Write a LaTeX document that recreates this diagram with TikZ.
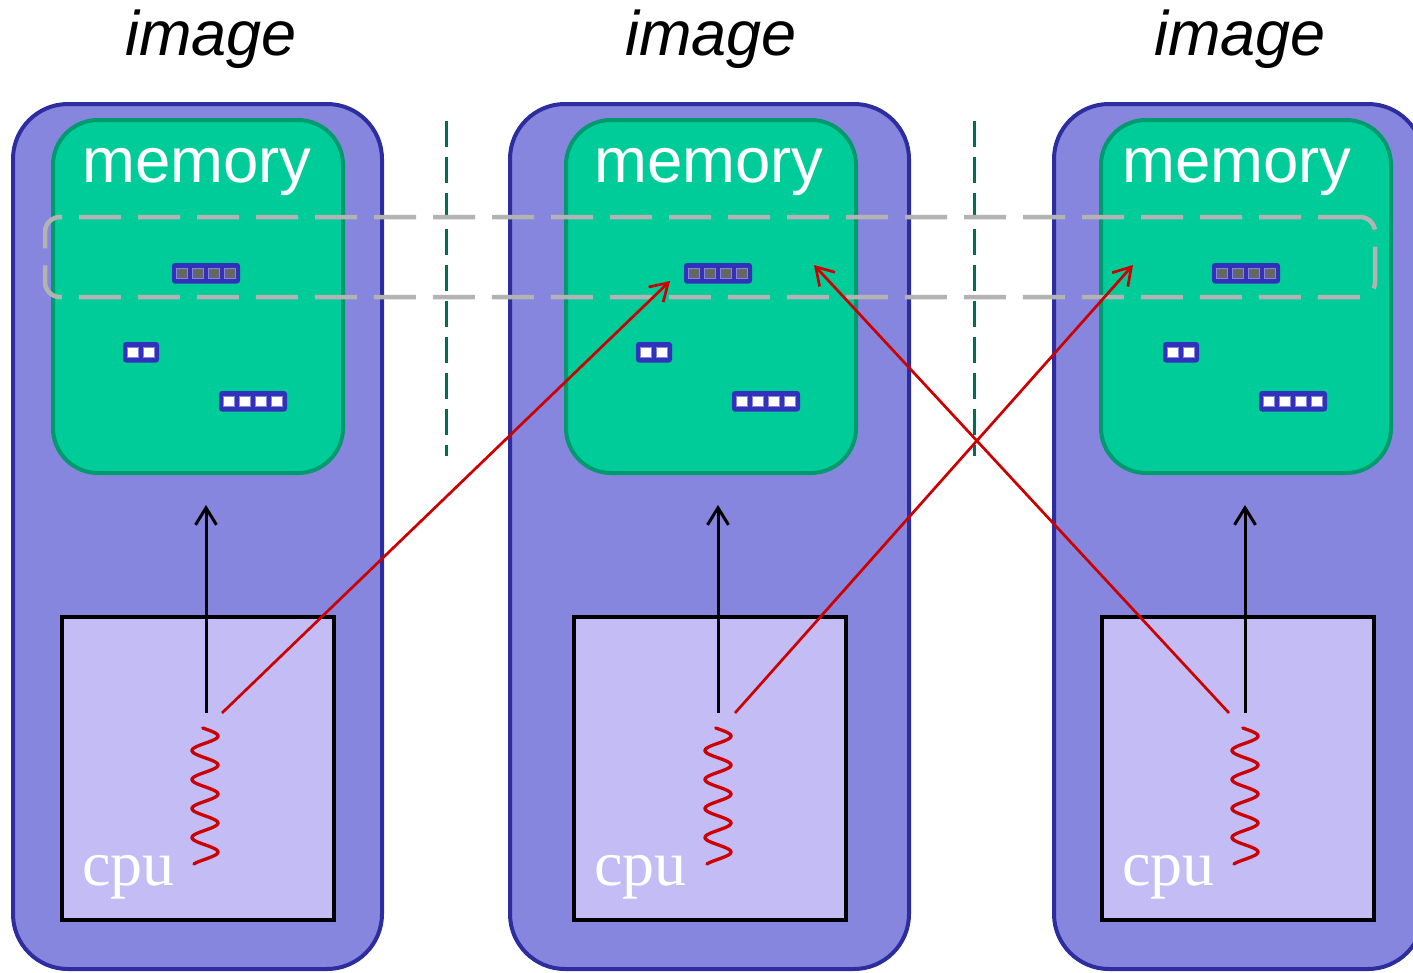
\documentclass[tikz,border=0pt]{standalone}
\usepackage{fontspec}
\setmainfont{Liberation Serif}
\newfontfamily\arialf{Liberation Sans}
\usetikzlibrary{arrows.meta}

\definecolor{imgfill}{HTML}{8686DE}
\definecolor{imgline}{HTML}{2D2D9F}
\definecolor{memfill}{HTML}{00CC99}
\definecolor{memline}{HTML}{009A6E}
\definecolor{cpufill}{HTML}{C4BDF5}
\definecolor{cellblue}{HTML}{3131BA}
\definecolor{cellgray}{HTML}{666666}
\definecolor{redline}{HTML}{CC0000}
\definecolor{grpgray}{HTML}{B3B3B3}
\definecolor{sepgreen}{HTML}{006E55}

\tikzset{
  imgbox/.style={draw=imgline, fill=imgfill, line width=4pt, rounded corners=55pt,
    anchor=north west, inner sep=0pt, outer sep=0pt, minimum width=369pt, minimum height=865pt},
  membox/.style={draw=memline, fill=memfill, line width=4pt, rounded corners=45pt,
    anchor=north west, inner sep=0pt, outer sep=0pt, minimum width=290pt, minimum height=353pt},
  cpubox/.style={draw=black, fill=cpufill, line width=4.5pt,
    anchor=north west, inner sep=0pt, outer sep=0pt, minimum width=272pt, minimum height=303pt},
  cellbar/.style={fill=cellblue, rounded corners=3pt, anchor=north west,
    inner sep=0pt, outer sep=0pt, minimum height=20.5pt},
  cellsq/.style={draw=imgfill, line width=0.8pt, inner sep=0pt, outer sep=0pt,
    minimum width=10.6pt, minimum height=10.6pt},
  imglabel/.style={font=\arialf\itshape\fontsize{63}{63}\selectfont, anchor=base, inner sep=0pt},
  memlabel/.style={font=\arialf\fontsize{63.5}{63.5}\selectfont, text=white, anchor=base, inner sep=0pt},
  cpulabel/.style={font=\fontsize{64}{64}\selectfont, text=white, anchor=base west, inner sep=0pt},
  sepline/.style={draw=sepgreen, line width=3pt, dash pattern=on 26pt off 10pt},
  grpbox/.style={draw=grpgray, line width=4.5pt, rounded corners=15pt, dash pattern=on 42pt off 17pt,
    anchor=north west, inner sep=0pt, outer sep=0pt, minimum width=1330pt, minimum height=80pt},
  localarrow/.style={draw=black, line width=3pt, -{Straight Barb[length=17pt, width=21pt]}},
  remotearrow/.style={draw=redline, line width=2.7pt, -{Straight Barb[length=17pt, width=21pt]}},
  thread/.style={draw=redline, line width=3.3pt, line cap=round},
}

% a row of n memory cells: name, x, y, n, cell colour
\newcommand\cellrow[5]{%
  \node[cellbar, minimum width={(20+16*(#4-1))*1pt}] (#1) at (#2,#3) {};
  \foreach \k in {1,...,#4}
    \node[cellsq, fill=#5] at ([xshift={(10+16*(\k-1))*1pt}]#1.west) {};
}

% a thread drawn as a wavy line centred on x
\newcommand\threadwave[1]{%
  \draw[thread] plot[domain=0:136, samples=160, smooth, variable=\s]
    ({#1+13*sin((\s-2)/29*360+15)}, {728+\s});
}

\begin{document}
\begin{tikzpicture}[x=1pt, y=-1pt]
\useasboundingbox (0,0) rectangle (1413,972);

% images
\node[imgbox] (img1) at (13,104) {};
\node[imgbox, minimum width=399pt] (img2) at (510,104) {};
\node[imgbox] (img3) at (1054,104) {};

\node[imglabel] (lab1) at (211,55) {image};
\node[imglabel] (lab2) at (711,55) {image};
\node[imglabel] (lab3) at (1240,55) {image};

% memories
\node[membox] (mem1) at (53,120) {};
\node[membox] (mem2) at (566,120) {};
\node[membox] (mem3) at (1101,120) {};

\node[memlabel] at (197,182) {memory};
\node[memlabel] at (709,182) {memory};
\node[memlabel] at (1237,182) {memory};

% cpus
\node[cpubox] (cpu1) at (62,617) {};
\node[cpubox] (cpu2) at (574,617) {};
\node[cpubox] (cpu3) at (1102,617) {};

\node[cpulabel] at (82,885) {cpu};
\node[cpulabel] at (594,885) {cpu};
\node[cpulabel] at (1122,885) {cpu};

% memory cells
\cellrow{co1}{172}{263}{4}{cellgray}
\cellrow{cb1}{123}{342}{2}{white}
\cellrow{cc1}{219}{391}{4}{white}
\cellrow{co2}{684}{263}{4}{cellgray}
\cellrow{cb2}{636}{342}{2}{white}
\cellrow{cc2}{732}{391}{4}{white}
\cellrow{co3}{1212}{263}{4}{cellgray}
\cellrow{cb3}{1163}{342}{2}{white}
\cellrow{cc3}{1259}{391}{4}{white}

% image separators
\coordinate (s1a) at (446,121);
\coordinate (s1b) at (446,456);
\coordinate (s2a) at (974,121);
\coordinate (s2b) at (974,456);
\draw[sepline] (s1a) -- (s1b);
\draw[sepline] (s2a) -- (s2b);

% co-array group
\node[grpbox] (grp) at (45,217) {};

% thread start points and targets
\coordinate (l1) at (206,713);
\coordinate (l2) at (718,713);
\coordinate (l3) at (1245,713);
\coordinate (m1) at (206,505);
\coordinate (m2) at (718,505);
\coordinate (m3) at (1245,505);
\coordinate (r1) at (222,713);
\coordinate (r2) at (735,713);
\coordinate (r3) at (1229,713);
\coordinate (t1) at (670,281);
\coordinate (t2) at (1133,265);
\coordinate (t3) at (814,265);

% local accesses
\draw[localarrow] (l1) -- (m1);
\draw[localarrow] (l2) -- (m2);
\draw[localarrow] (l3) -- (m3);

% remote accesses
\draw[remotearrow] (r1) -- (t1);
\draw[remotearrow] (r2) -- (t2);
\draw[remotearrow] (r3) -- (t3);

% threads
\threadwave{205}
\threadwave{718}
\threadwave{1245}
\end{tikzpicture}
\end{document}
